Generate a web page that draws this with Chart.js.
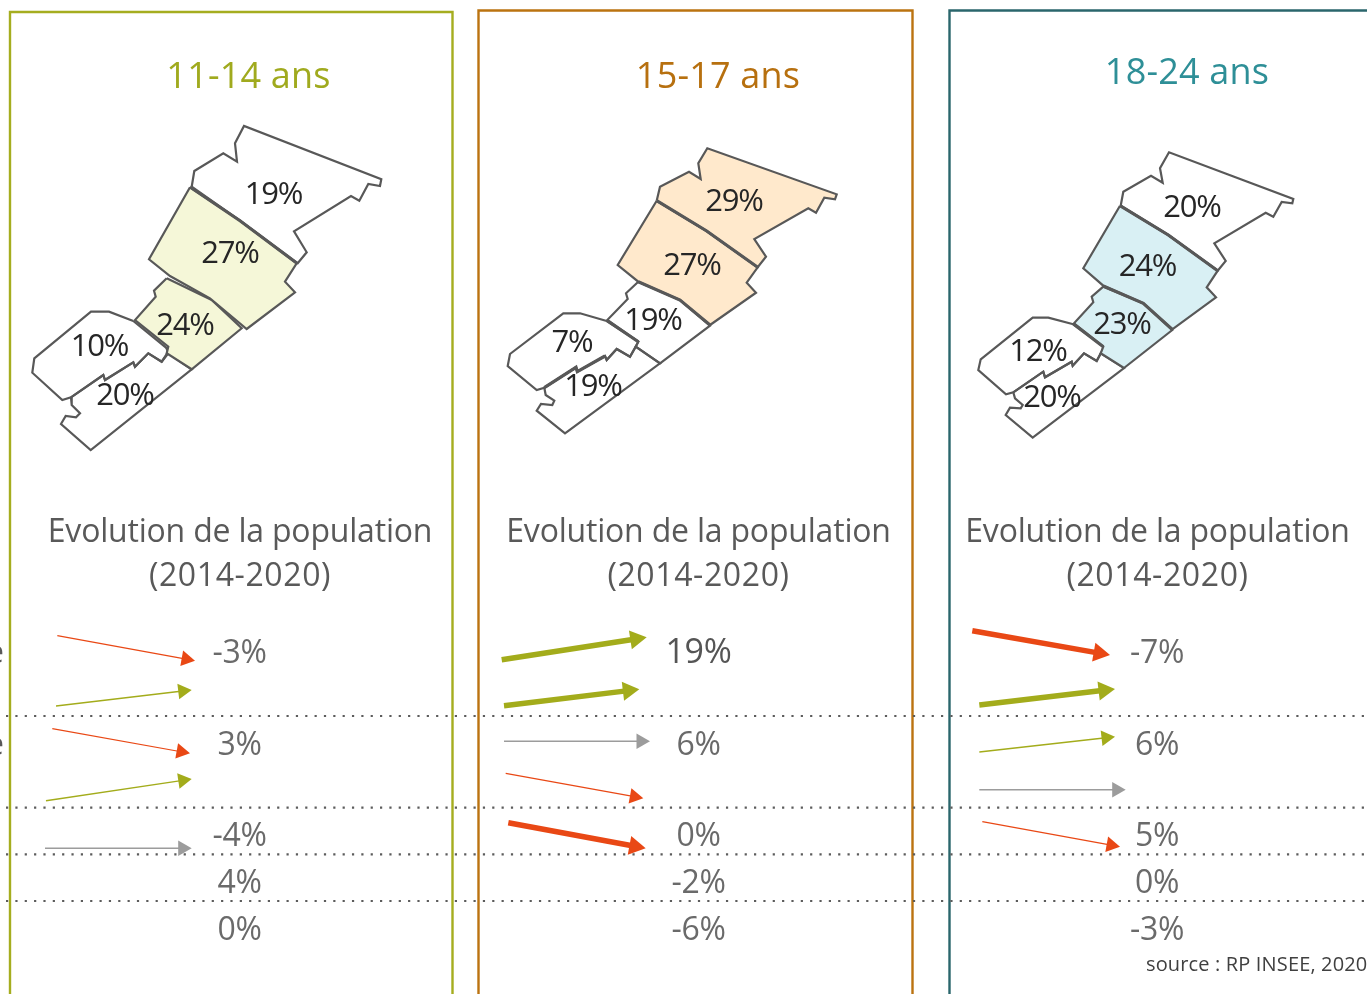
<!DOCTYPE html>
<html><head><meta charset="utf-8">
<style>html,body{margin:0;padding:0;background:#fff;overflow:hidden}canvas{display:block}</style>
<script src="https://cdn.jsdelivr.net/npm/chart.js@4"></script>
</head><body><canvas id="c" width="1367" height="994"></canvas>
<script>
/* ---------- values ---------- */
const panelTitles = ['11-14 ans','15-17 ans','18-24 ans'];
const subtitleLine1 = 'Evolution de la population';
const subtitleLine2 = '(2014-2020)';
const sourceText = 'source : RP INSEE, 2020';
const shares1114 = [19,27,24,10,20];
const shares1517 = [29,27,19,7,19];
const shares1824 = [20,24,23,12,20];
const evolution1114 = [-3,3,-4,4,0];
const evolution1517 = [19,6,0,-2,-6];
const evolution1824 = [-7,6,5,0,-3];

/* map outlines, in picture units */
const map1N=[[191.7,186.7],[194.3,171],[223.3,153.3],[237,161.7],[235,143.3],[244,126],[381.3,179.3],[380,186],[368.3,184],[359.3,200.7],[351,196],[294,231.3],[306.7,252.3],[297.7,263.3],[240,220.7]];
const map1C=[[190,187.3],[149,259.3],[170,276],[210,298.3],[246.7,329],[295,292.3],[285,281.7],[296.7,263.3],[240,220.7]];
const map1S=[[166.7,278.3],[154,290.7],[155.7,296.7],[135,320],[168.3,346.7],[166.7,353.3],[191.7,369.3],[241.7,328.3],[211.7,300]];
const map1W=[[133.3,321],[109,311.7],[91,311.7],[34.3,358.3],[32.3,372.7],[62.3,400],[71,397.3],[103.3,375],[105,380],[133.3,362.3],[135,366.7],[148.3,353.3],[161.7,361.7],[168.3,351.7],[165.7,347.3]];
const map1SW=[[71,397.3],[71.7,405],[80,413.3],[76,417.3],[65.7,416],[61,424],[90.7,450],[191.7,369.3],[168.3,353.3],[161.7,361.7],[148.3,353.3],[135,366.7],[133.3,362.3],[105,380],[103.3,375]];
const map2N=[[656.7,200.7],[660,186.7],[689,171.7],[700.7,179],[698.3,163.3],[707.3,148.3],[836.7,194.3],[835,199.3],[824.3,197.7],[816,212.7],[808.3,208.3],[754.3,239],[766,256.7],[757.7,267.3],[706.7,231]];
const map2C=[[656.7,200.7],[617.7,265],[638.3,281.7],[680,300],[710,325],[756,292.7],[746.7,282.7],[757.7,267.3],[706.7,231]];
const map2S=[[638.3,281.7],[626,293.3],[627.7,299],[607.3,320],[638.3,341.7],[635.7,346.7],[660,363.3],[710,325.7],[680,300]];
const map2W=[[606.7,321],[580,313.3],[563.3,313.3],[510,354],[507.7,366],[536.7,390],[544.3,387.7],[576,367.3],[577.3,371.7],[605,356],[606.7,360],[616.7,349],[630,356.7],[635.7,346.7],[638.3,341.7]];
const map2SW=[[544.3,387.7],[545.7,395],[554.3,400.7],[552.3,405],[541,404],[536.7,410.7],[565,433.3],[660,363.3],[635.7,346.7],[630,356.7],[616.7,349],[606.7,360],[605,356],[577.3,371.7],[576,367.3]];
const map3N=[[1120.7,205.7],[1123.3,191.7],[1151,175.7],[1162.7,182.7],[1160,168.3],[1169,152.3],[1293.3,199],[1292.3,203.3],[1281.7,202],[1273.3,216.7],[1265.7,212.7],[1214.3,243.3],[1225.7,261],[1217.7,270.7],[1168.3,235]];
const map3C=[[1120,205.7],[1083.3,268.3],[1103.3,285.7],[1143.3,303.3],[1172.3,329.3],[1216,297.3],[1206.7,287.3],[1217.7,270.7],[1168.3,235]];
const map3S=[[1103.3,286.7],[1091.7,296.7],[1093.3,302.3],[1074,323.3],[1103.3,346.7],[1100.7,353.3],[1124,368],[1172.3,330],[1143.3,303.3]];
const map3W=[[1073.3,324.3],[1048.3,317.7],[1032.7,317.7],[980.7,359.3],[978.3,370],[1006,394.3],[1013.3,392.3],[1043.3,371.7],[1045,377.3],[1071.7,361.7],[1072.7,365.7],[1084,353.3],[1096.7,361],[1102.7,350],[1103.3,346.7]];
const map3SW=[[1013.3,392.3],[1015,398.3],[1022.7,405],[1020.7,408.3],[1010,407.7],[1005.7,415],[1032.7,437.7],[1124,368],[1100.7,353.3],[1096.7,361],[1084,353.3],[1072.7,365.7],[1071.7,361.7],[1045,377.3],[1043.3,371.7]];

/* heavier shared borders */
const heavyBorders = [
 [[190,187],[240,220.7],[297,263.3]],
 [[656.7,200.7],[706.7,231],[757.7,267.3]],
 [[638.3,281.7],[680,300],[710,325]],
 [[607,320.5],[638.3,341.7]],
 [[544.3,387.7],[576,367.3],[577.3,371.7],[605,356]],
 [[1120,205.7],[1168.3,235],[1217.7,270.7]],
 [[1103.3,286],[1143.3,303.3],[1172.3,329.5]],
 [[1073.5,324],[1103.3,346.7]]
];

/* trend arrows: start, tip */
const arrows1114 = [[[57.3,635.7],[195,660.7]],[[56,706],[191.7,690]],[[52.3,728.7],[190,753.3]],[[46,800.7],[191.7,779]],[[45,848.3],[191.7,848.3]]];
const arrows1517 = [[[501.7,659.7],[646.7,637.3]],[[504,705.7],[639.3,689.3]],[[504,741.3],[650,741.3]],[[505.7,773.3],[643.3,798.3]],[[508.3,822.7],[645.7,848.3]]];
const arrows1824 = [[[972.3,630.7],[1110,655]],[[979.3,705],[1115,689]],[[979.3,752],[1115,736.7]],[[979.3,789.7],[1125.7,789.7]],[[982.3,821.7],[1120,846.7]]];
const arrowKinds1114 = ['down','up','down','up','flat'];
const arrowKinds1517 = ['upBold','upBold','flat','down','downBold'];
const arrowKinds1824 = ['downBold','upBold','up','flat','down'];

const rowLines = [716,807.7,854.3,901];

/* ---------- styles ---------- */
const OLIVE='#a3ac1b', RED='#e94815', GREY='#9c9c9c', EDGE='#585858';
const kindStyle = {
  up:{c:OLIVE,w:1.4,r:9}, down:{c:RED,w:1.2,r:9}, flat:{c:GREY,w:1.4,r:9},
  upBold:{c:OLIVE,w:5.5,r:11}, downBold:{c:RED,w:5.5,r:11}
};
const FONT='"Open Sans"';

/* ---------- datasets ---------- */
const pts = a => a.map(p => ({x:p[0],y:p[1]}));
const ds = [];
function frame(points,color){ ds.push({data:pts(points),showLine:true,borderColor:color,borderWidth:2.4,pointRadius:0,fill:false,order:10,borderJoinStyle:'miter'}); }
frame([[10,1000],[10,12],[452.5,12],[452.5,1000]],'#a5ad1f');
frame([[478.5,1000],[478.5,10.5],[912.5,10.5],[912.5,1000]],'#bb7310');
frame([[949.5,1000],[949.5,10.5],[1375,10.5]],'#2a666c');
rowLines.forEach(y=>ds.push({data:pts([[6,y],[1367,y]]),showLine:true,borderColor:'#5c5c5c',borderWidth:2.2,borderDash:[2.2,7.15],pointRadius:0,fill:false,order:9}));

function region(poly,fillColor){
  const closed=poly.concat([poly[0]]);
  ds.push({data:pts(closed),showLine:true,borderColor:EDGE,borderWidth:2.2,pointRadius:0,fill:fillColor?'shape':false,backgroundColor:fillColor||'transparent',order:8,borderJoinStyle:'miter'});
}
const A='#f5f7d8',B='#ffe9cc',C='#d9f0f4';
[[map1N,null],[map1C,A],[map1S,A],[map1W,null],[map1SW,null],
 [map2N,B],[map2C,B],[map2S,null],[map2W,null],[map2SW,null],
 [map3N,null],[map3C,C],[map3S,C],[map3W,null],[map3SW,null]].forEach(r=>region(r[0],r[1]));
heavyBorders.forEach(l=>ds.push({data:pts(l),showLine:true,borderColor:EDGE,borderWidth:3.2,pointRadius:0,fill:false,order:7}));

function arrow(a,kind){
  const s=kindStyle[kind],dx=a[1][0]-a[0][0],dy=a[1][1]-a[0][1],L=Math.hypot(dx,dy);
  const head=[a[1][0]-dx/L*s.r,a[1][1]-dy/L*s.r];
  const rot=Math.atan2(dy,dx)*180/Math.PI+90;
  ds.push({data:pts([a[0],head]),showLine:true,borderColor:s.c,borderWidth:s.w,fill:false,order:5,
    pointStyle:'triangle',pointRadius:[0,s.r],pointRotation:rot,pointBackgroundColor:s.c,pointBorderWidth:0,pointBorderColor:s.c});
}
arrows1114.forEach((a,i)=>arrow(a,arrowKinds1114[i]));
arrows1517.forEach((a,i)=>arrow(a,arrowKinds1517[i]));
arrows1824.forEach((a,i)=>arrow(a,arrowKinds1824[i]));

/* ---------- text anchors ---------- */
const titleAnchors=[[248.5,78,'#a0aa1e'],[718,78,'#b7700f'],[1187,74,'#2e8f97']];
const subtitleX=[240,698.5,1157.5];
const subtitleY=[532.5,577];
const evoX=[239.5,698.5,1157];
const evoY=[653.5,745.5,836.5,883.5,930.5];
const shareAnchors=[
 [[273.5,195.5],[230,254.5],[185,326.5],[99.5,347.5],[125,396.5]],
 [[734,202.5],[692,266.5],[653,321.5],[572,343.5],[593,387.5]],
 [[1192,208.5],[1147.5,267.5],[1122,325.5],[1038,352.5],[1052,398.5]]
];
const sharesAll=[shares1114,shares1517,shares1824];
const evoAll=[evolution1114,evolution1517,evolution1824];

const textPlugin={id:'texts',afterDatasetsDraw(chart){
  const ctx=chart.ctx,X=chart.scales.x,Y=chart.scales.y;
  const put=(t,x,y,font,col,align,sp)=>{ctx.font=font;ctx.fillStyle=col;ctx.textAlign=align||'center';ctx.textBaseline='middle';ctx.letterSpacing=sp||'0px';ctx.fillText(t,X.getPixelForValue(x),Y.getPixelForValue(y));};
  ctx.save();
  panelTitles.forEach((t,i)=>put(t,titleAnchors[i][0],titleAnchors[i][1],`36px ${FONT}`,titleAnchors[i][2],'center','0.2px'));
  subtitleX.forEach(x=>{put(subtitleLine1,x,subtitleY[0],`32px ${FONT}`,'#595959','center','-0.2px');put(subtitleLine2,x,subtitleY[1],`32px ${FONT}`,'#595959','center','0.6px');});
  sharesAll.forEach((arr,p)=>arr.forEach((v,i)=>put(v+'%',shareAnchors[p][i][0],shareAnchors[p][i][1],`31px ${FONT}`,'#262626','center','-1.2px')));
  evoAll.forEach((arr,p)=>arr.forEach((v,i)=>{const big=(p===1&&i===0);put(v+'%',evoX[p],evoY[i],`${big?34:32}px ${FONT}`,big?'#555555':'#6a6a6a','center','-0.3px');}));
  put('e',4,653.5,`32px ${FONT}`,'#595959','right');
  put('e',4,745.5,`32px ${FONT}`,'#595959','right');
  put(sourceText,1146,965,`20px ${FONT}`,'#404040','left','0.15px');
  ctx.restore();
}};

new Chart(document.getElementById('c'),{
  type:'scatter',
  data:{datasets:ds},
  options:{
    responsive:false,animation:false,
    layout:{padding:0,autoPadding:false},
    plugins:{legend:{display:false},tooltip:{enabled:false},title:{display:false}},
    scales:{
      x:{type:'linear',min:0,max:1367,display:false},
      y:{type:'linear',min:0,max:994,reverse:true,display:false}
    }
  },
  plugins:[textPlugin]
});
</script></body></html>
